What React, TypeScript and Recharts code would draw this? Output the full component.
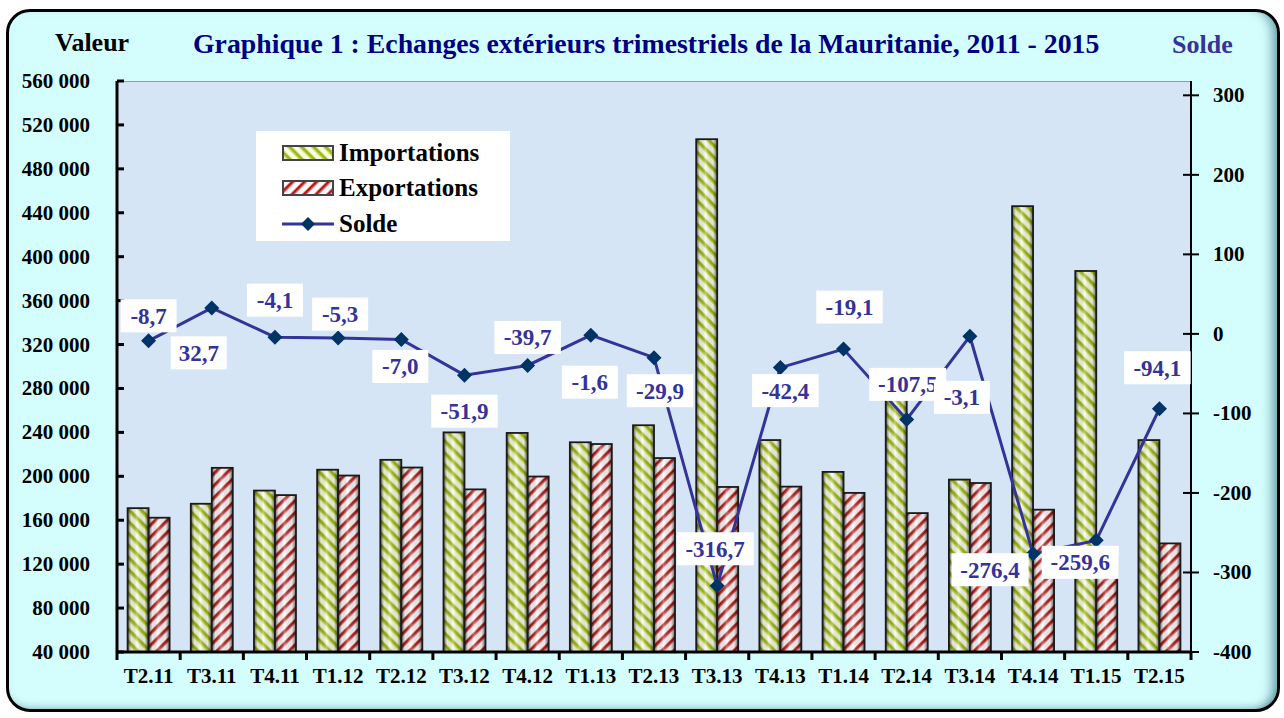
import React from "react";
import {
  ComposedChart,
  Bar,
  Line,
  XAxis,
  YAxis,
  Legend,
  LabelList,
} from "recharts";

const categories = [
  "T2.11", "T3.11", "T4.11", "T1.12", "T2.12", "T3.12", "T4.12", "T1.13", "T2.13",
  "T3.13", "T4.13", "T1.14", "T2.14", "T3.14", "T4.14", "T1.15", "T2.15",
];
const importations = [
  171000, 175000, 187000, 206000, 215000, 240000, 239500, 231000, 246500,
  507000, 233000, 204000, 274000, 197000, 446000, 387000, 233000,
];
const exportations = [
  162300, 207700, 182900, 200700, 208000, 188100, 199800, 229400, 216600,
  190300, 190600, 184900, 166500, 193900, 169600, 127400, 138900,
];
const solde = [
  -8.7, 32.7, -4.1, -5.3, -7.0, -51.9, -39.7, -1.6, -29.9,
  -316.7, -42.4, -19.1, -107.5, -3.1, -276.4, -259.6, -94.1,
];
const valeurTicks = [
  40000, 80000, 120000, 160000, 200000, 240000, 280000, 320000, 360000,
  400000, 440000, 480000, 520000, 560000,
];
const soldeTicks = [-400, -300, -200, -100, 0, 100, 200, 300];

// where each "solde" label box sits relative to its point
const labelOffsets = [
  [0, -25], [-13, 45], [0, -37], [2, -24], [-1, 27], [0, 36], [0, -28], [-1, 47], [6, 33],
  [-2, -37], [5, 23], [6, -42], [1, -35], [-8, 61], [-43, 16], [-16, 22], [-2, -41],
];

const data = categories.map((c, i) => ({
  name: c,
  imp: importations[i],
  exp: exportations[i],
  solde: solde[i],
}));

const FONT = '"Liberation Serif", "Times New Roman", serif';
const BLUE = "#333399";
const PLOT = { left: 117, right: 1191, top: 81, bottom: 652 };
const BAND = (PLOT.right - PLOT.left) / categories.length;

const fmtValeur = (v: number) => String(v).replace(/\B(?=(\d{3})+(?!\d))/g, " ");
const fmtSolde = (v: number) => v.toFixed(1).replace(".", ",");

function Patterns() {
  return (
    <svg width={0} height={0} style={{ position: "absolute" }}>
      <defs>
        <linearGradient id="stripeG" x1="0" x2="1" y1="0" y2="0">
          <stop offset="0%" stopColor="#eef6b0" />
          <stop offset="35%" stopColor="#a8c818" />
          <stop offset="65%" stopColor="#8aa80c" />
          <stop offset="100%" stopColor="#eef6b0" />
        </linearGradient>
        <linearGradient id="stripeR" x1="0" x2="1" y1="0" y2="0">
          <stop offset="0%" stopColor="#e07070" />
          <stop offset="40%" stopColor="#a80c0c" />
          <stop offset="100%" stopColor="#e07070" />
        </linearGradient>
        <pattern id="impPat" patternUnits="userSpaceOnUse" width="8.5" height="8.5" patternTransform="rotate(-45)">
          <rect width="8.5" height="8.5" fill="#fbfde6" />
          <rect x="0" width="4.8" height="8.5" fill="url(#stripeG)" />
        </pattern>
        <pattern id="expPat" patternUnits="userSpaceOnUse" width="8.5" height="8.5" patternTransform="rotate(45)">
          <rect width="8.5" height="8.5" fill="#fffafa" />
          <rect x="0" width="3.6" height="8.5" fill="url(#stripeR)" />
        </pattern>
        <linearGradient id="shade" x1="0" x2="1" y1="0" y2="0">
          <stop offset="0%" stopColor="#000" stopOpacity="0.6" />
          <stop offset="18%" stopColor="#000" stopOpacity="0.08" />
          <stop offset="45%" stopColor="#fff" stopOpacity="0.3" />
          <stop offset="80%" stopColor="#000" stopOpacity="0.08" />
          <stop offset="100%" stopColor="#000" stopOpacity="0.6" />
        </linearGradient>
      </defs>
    </svg>
  );
}

const stripedBar = (pat: string) => (props: any) => {
  const { x, y, width, height } = props;
  if (!height || height <= 0) return <g />;
  return (
    <g>
      <rect x={x} y={y} width={width} height={height} fill={`url(#${pat})`} />
      <rect x={x} y={y} width={width} height={height} fill="url(#shade)" />
      <rect x={x} y={y} width={width} height={height} fill="none" stroke="#1a1a1a" strokeWidth={1.8} />
    </g>
  );
};

const Diamond = (props: any) => {
  const { cx, cy, index } = props;
  if (cx == null || cy == null) return <g key={`d-${index}`} />;
  const r = 7.5;
  return (
    <path
      key={`d-${index}`}
      d={`M${cx},${cy - r}L${cx + r},${cy}L${cx},${cy + r}L${cx - r},${cy}Z`}
      fill="#003366"
    />
  );
};

const SoldeLabel = (props: any) => {
  const { x, y, value, index } = props;
  const txt = fmtSolde(Number(value));
  const [dx, dy] = labelOffsets[index] || [0, -30];
  const w = txt.length * 10.5 + 14;
  const h = 33;
  const cx = x + dx;
  const cy = y + dy;
  return (
    <g>
      <rect x={cx - w / 2} y={cy - h / 2} width={w} height={h} fill="#fff" />
      <text
        x={cx}
        y={cy + 8}
        textAnchor="middle"
        fontFamily={FONT}
        fontWeight="bold"
        fontSize={23}
        fill={BLUE}
      >
        {txt}
      </text>
    </g>
  );
};

const LeftTick = (props: any) => {
  const { x, y, payload } = props;
  return (
    <g>
      <line x1={x} x2={x + 7} y1={y} y2={y} stroke="#000" strokeWidth={3} />
      <text x={x - 27} y={y + 7} textAnchor="end" fontFamily={FONT} fontWeight="bold" fontSize={21} fill="#000">
        {fmtValeur(payload.value)}
      </text>
    </g>
  );
};

const RightTick = (props: any) => {
  const { x, y, payload } = props;
  return (
    <g>
      <line x1={x - 8} x2={x + 8} y1={y} y2={y} stroke="#000" strokeWidth={2} />
      <text x={x + 22} y={y + 7} textAnchor="start" fontFamily={FONT} fontWeight="bold" fontSize={21} fill="#000">
        {payload.value}
      </text>
    </g>
  );
};

const BottomTick = (props: any) => {
  const { x, y, payload, index } = props;
  return (
    <g>
      <line x1={x - BAND / 2} x2={x - BAND / 2} y1={y} y2={y + 8} stroke="#000" strokeWidth={3} />
      {index === categories.length - 1 && (
        <line x1={x + BAND / 2} x2={x + BAND / 2} y1={y} y2={y + 8} stroke="#000" strokeWidth={3} />
      )}
      <text x={x} y={y + 31} textAnchor="middle" fontFamily={FONT} fontWeight="bold" fontSize={21} fill="#000">
        {payload.value}
      </text>
    </g>
  );
};

const LegendBox = () => {
  const row = (label: string, swatch: React.ReactNode, top: number) => (
    <div style={{ position: "absolute", left: 26, top, display: "flex", alignItems: "center" }}>
      <svg width={52} height={20} style={{ marginRight: 5 }}>
        {swatch}
      </svg>
      <span style={{ fontFamily: FONT, fontWeight: "bold", fontSize: 25, color: "#000", lineHeight: "22px" }}>
        {label}
      </span>
    </div>
  );
  return (
    <div style={{ position: "relative", width: 254, height: 110, background: "#fff" }}>
      {row(
        "Importations",
        <g>
          <rect x={1} y={3} width={50} height={14} fill="url(#impPat)" />
          <rect x={1} y={3} width={50} height={14} fill="none" stroke="#444" strokeWidth={2} />
        </g>,
        11
      )}
      {row(
        "Exportations",
        <g>
          <rect x={1} y={3} width={50} height={14} fill="url(#expPat)" />
          <rect x={1} y={3} width={50} height={14} fill="none" stroke="#444" strokeWidth={2} />
        </g>,
        46
      )}
      {row(
        "Solde",
        <g>
          <line x1={0} x2={52} y1={10} y2={10} stroke={BLUE} strokeWidth={3} />
          <path d="M26,3L33,10L26,17L19,10Z" fill="#003366" />
        </g>,
        82
      )}
    </div>
  );
};

export default function App() {
  return (
    <div>
      <Patterns />
      <div
        style={{
          position: "absolute",
          left: 6,
          top: 9,
          width: 1268,
          height: 697,
          border: "3px solid #000",
          borderRadius: 24,
          background: "#d4fefe",
          boxShadow: "inset -12px 0 12px -8px rgba(0,70,90,0.55), inset 0 -8px 10px -8px rgba(0,70,90,0.4)",
        }}
      />
      <div
        style={{
          position: "absolute",
          left: PLOT.left,
          top: PLOT.top,
          width: PLOT.right - PLOT.left,
          height: PLOT.bottom - PLOT.top,
          background: "#d6e5f5",
          borderTop: "1px solid #999",
          boxSizing: "border-box",
        }}
      />
      <div style={{ position: "absolute", left: 55, top: 28, fontFamily: FONT, fontWeight: "bold", fontSize: 26, color: "#000" }}>
        Valeur
      </div>
      <div style={{ position: "absolute", left: 193, top: 28, fontFamily: FONT, fontWeight: "bold", fontSize: 27.8, color: "#000080", whiteSpace: "nowrap" }}>
        Graphique 1 : Echanges extérieurs trimestriels de la Mauritanie, 2011 - 2015
      </div>
      <div style={{ position: "absolute", left: 1172, top: 30, fontFamily: FONT, fontWeight: "bold", fontSize: 26, color: BLUE }}>
        Solde
      </div>
      <div style={{ position: "absolute", left: 0, top: 0 }}>
        <ComposedChart
          width={1284}
          height={718}
          data={data}
          margin={{ top: 81, right: 23, bottom: 26, left: 17 }}
          barCategoryGap="16.8%"
          barGap={0}
        >
          <XAxis
            dataKey="name"
            height={40}
            tickLine={false}
            tickSize={0}
            tickMargin={0}
            axisLine={{ stroke: "#000", strokeWidth: 3 }}
            tick={<BottomTick />}
            interval={0}
          />
          <YAxis
            yAxisId="left"
            width={100}
            domain={[40000, 560000]}
            ticks={valeurTicks}
            allowDataOverflow
            tickLine={false}
            tickSize={0}
            tickMargin={0}
            axisLine={{ stroke: "#000", strokeWidth: 3 }}
            tick={<LeftTick />}
            interval={0}
          />
          <YAxis
            yAxisId="right"
            orientation="right"
            width={70}
            domain={[-400, 318]}
            ticks={soldeTicks}
            allowDataOverflow
            tickLine={false}
            tickSize={0}
            tickMargin={0}
            axisLine={{ stroke: "#000", strokeWidth: 2 }}
            tick={<RightTick />}
            interval={0}
          />
          <Legend
            layout="vertical"
            align="center"
            verticalAlign="middle"
            content={() => <LegendBox />}
            wrapperStyle={{ position: "absolute", left: 256, top: 131, width: 254, height: 110 }}
          />
          <Bar yAxisId="left" dataKey="imp" name="Importations" shape={stripedBar("impPat")} isAnimationActive={false} />
          <Bar yAxisId="left" dataKey="exp" name="Exportations" shape={stripedBar("expPat")} isAnimationActive={false} />
          <Line
            yAxisId="right"
            dataKey="solde"
            name="Solde"
            stroke={BLUE}
            strokeWidth={3}
            dot={<Diamond />}
            activeDot={false}
            isAnimationActive={false}
          >
            <LabelList dataKey="solde" content={<SoldeLabel />} />
          </Line>
        </ComposedChart>
      </div>
    </div>
  );
}
